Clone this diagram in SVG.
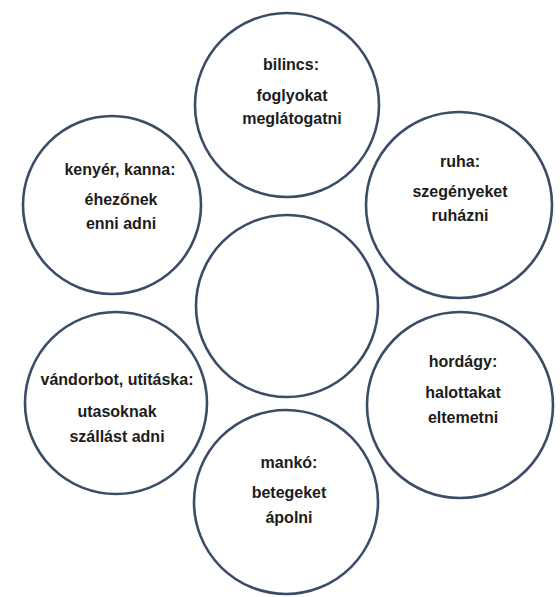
<svg xmlns="http://www.w3.org/2000/svg" width="560" height="597" viewBox="0 0 560 597">
<style>
.c{fill:#ffffff;stroke:#3b4d66;stroke-width:2.6}
.t{font-family:"Liberation Sans",Arial,sans-serif;font-weight:bold;font-size:16px;fill:#1c1c1c;text-anchor:middle}
</style>
<rect width="560" height="597" fill="#ffffff"/>
<g id="connectors"></g>
<g id="center"><circle class="c" cx="287" cy="306" r="91"/></g>
<g id="bilincs">
<circle class="c" cx="287" cy="105" r="92"/>
<text class="t" x="291" y="70">bilincs:</text>
<text class="t" x="292" y="101">foglyokat</text>
<text class="t" x="292" y="124">meglátogatni</text>
</g>
<g id="kenyer">
<circle class="c" cx="112" cy="205" r="89"/>
<text class="t" x="120" y="175">kenyér, kanna:</text>
<text class="t" x="121" y="205">éhezőnek</text>
<text class="t" x="121" y="229">enni adni</text>
</g>
<g id="ruha">
<circle class="c" cx="459" cy="205" r="93"/>
<text class="t" x="460" y="167">ruha:</text>
<text class="t" x="460" y="197">szegényeket</text>
<text class="t" x="460" y="221">ruházni</text>
</g>
<g id="vandorbot">
<circle class="c" cx="116" cy="403" r="91"/>
<text class="t" x="117" y="385">vándorbot, utitáska:</text>
<text class="t" x="117" y="417">utasoknak</text>
<text class="t" x="117" y="442">szállást adni</text>
</g>
<g id="hordagy">
<circle class="c" cx="460" cy="405" r="93"/>
<text class="t" x="463" y="367">hordágy:</text>
<text class="t" x="463" y="398">halottakat</text>
<text class="t" x="463" y="423">eltemetni</text>
</g>
<g id="manko">
<circle class="c" cx="286" cy="502" r="92"/>
<text class="t" x="289" y="468">mankó:</text>
<text class="t" x="289" y="498">betegeket</text>
<text class="t" x="289" y="523">ápolni</text>
</g>
</svg>
